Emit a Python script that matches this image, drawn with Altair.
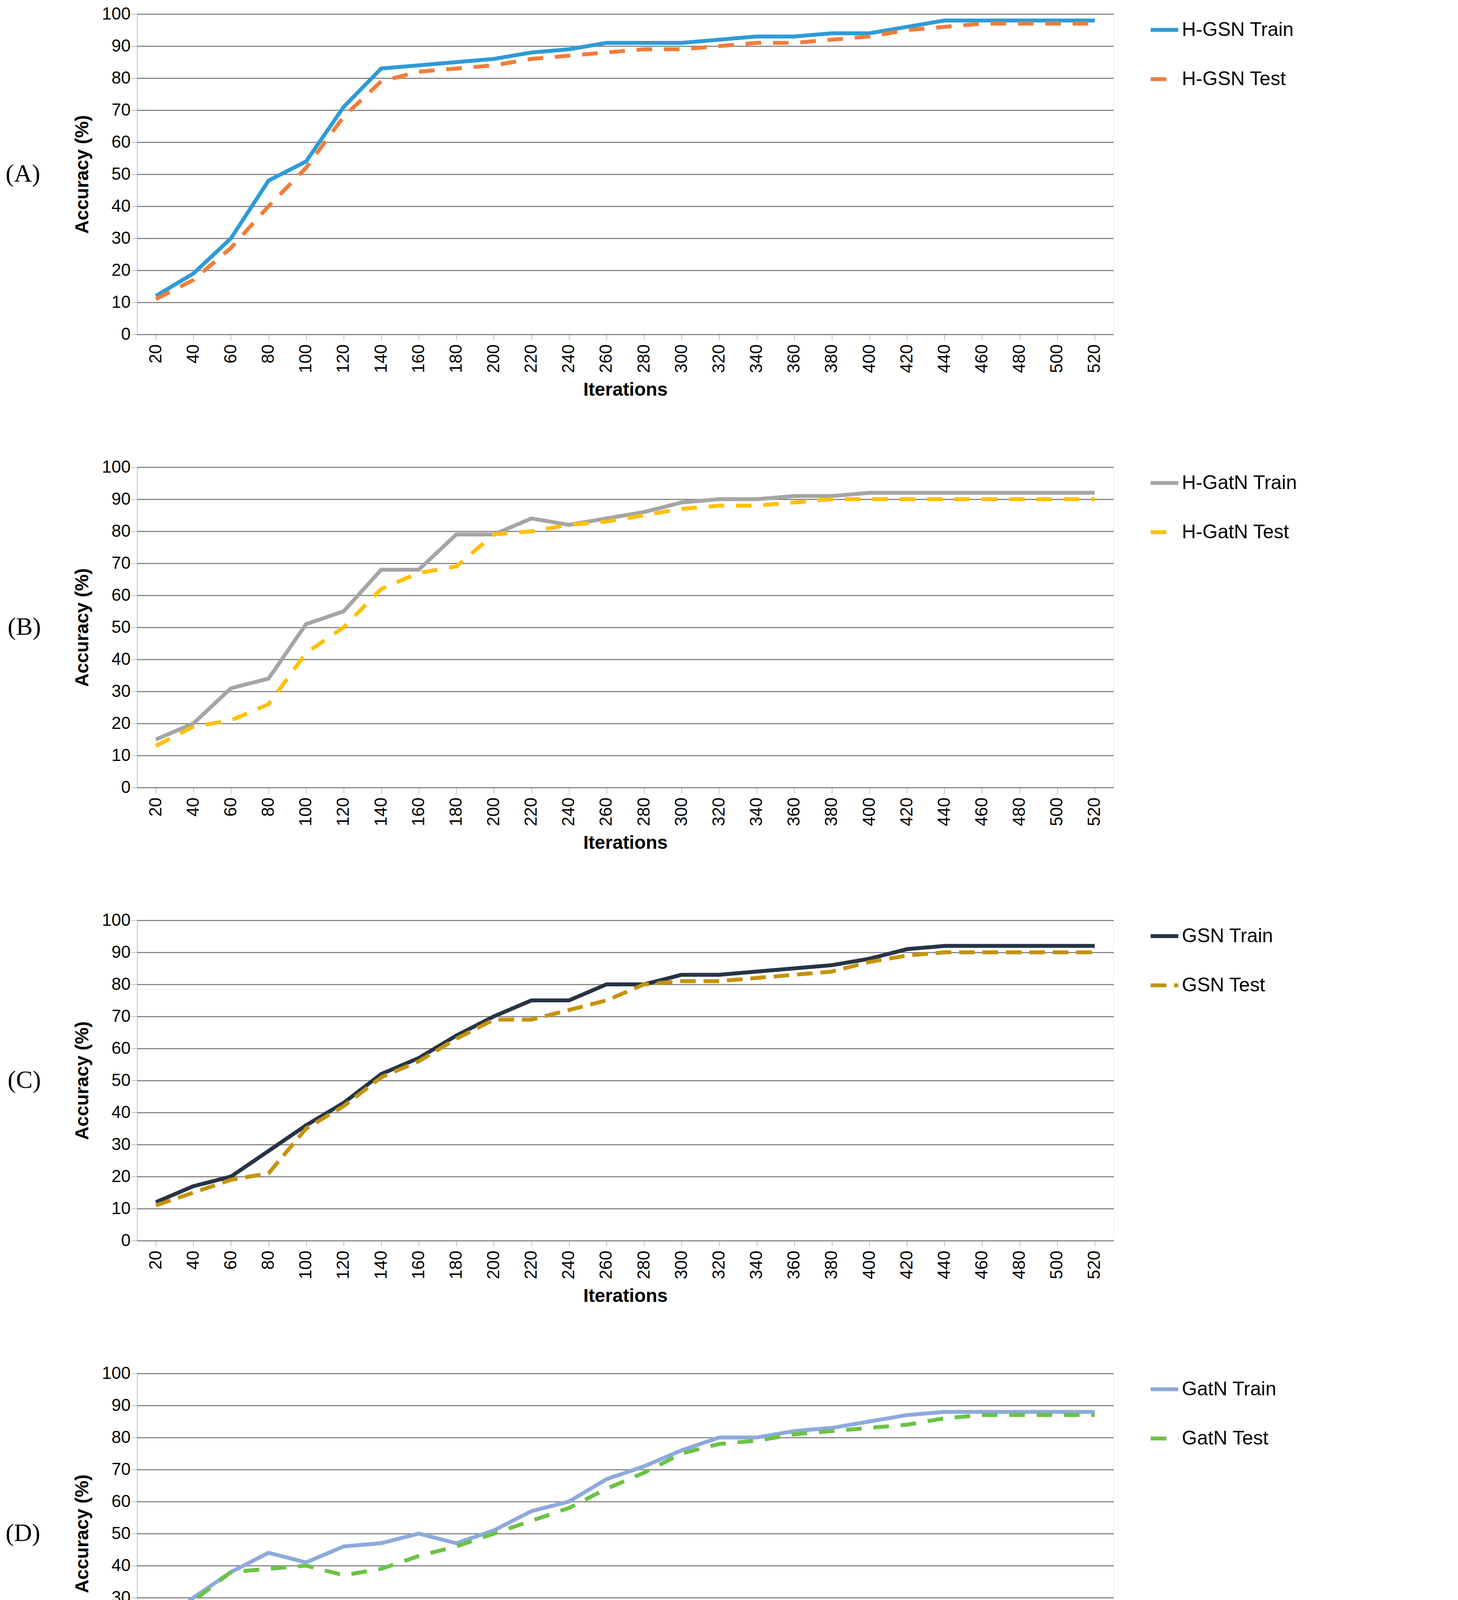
import altair as alt
import pandas as pd

iters = list(range(20, 521, 20))
a_train = [12,19,30,48,54,71,83,84,85,86,88,89,91,91,91,92,93,93,94,94,96,98,98,98,98,98]
a_test  = [11,17,27,40,52,68,79,82,83,84,86,87,88,89,89,90,91,91,92,93,95,96,97,97,97,97]
b_train = [15,20,31,34,51,55,68,68,79,79,84,82,84,86,89,90,90,91,91,92,92,92,92,92,92,92]
b_test  = [13,19,21,26,42,50,62,67,69,79,80,82,83,85,87,88,88,89,90,90,90,90,90,90,90,90]
c_train = [12,17,20,28,36,43,52,57,64,70,75,75,80,80,83,83,84,85,86,88,91,92,92,92,92,92]
c_test  = [11,15,19,21,35,42,51,56,63,69,69,72,75,80,81,81,82,83,84,87,89,90,90,90,90,90]
d_train = [21,30,38,44,41,46,47,50,47,51,57,60,67,71,76,80,80,82,83,85,87,88,88,88,88,88]
d_test  = [19,29,38,39,40,37,39,43,46,50,54,58,64,69,75,78,79,81,82,83,84,86,87,87,87,87]

panels = [
    ("(A)", "H-GSN", a_train, a_test, "#2E9BD6", "#F07D3A", [40, 30]),
    ("(B)", "H-GatN", b_train, b_test, "#A5A5A5", "#FFC000", [40, 30]),
    ("(C)", "GSN", c_train, c_test, "#263445", "#C4930E", [40, 20]),
    ("(D)", "GatN", d_train, d_test, "#8EAADB", "#6CC244", [40, 30]),
]

charts = []
for label, name, tr, te, c1, c2, dash in panels:
    n1, n2 = f"{name} Train", f"{name} Test"
    df = pd.DataFrame({
        "Iterations": iters * 2,
        "acc": tr + te,
        "series": [n1] * len(iters) + [n2] * len(iters),
    })
    ch = alt.Chart(df).mark_line(strokeWidth=10).encode(
        x=alt.X("Iterations:O", scale=alt.Scale(padding=0.5),
                axis=alt.Axis(title="Iterations", labelAngle=-90, grid=False,
                              labelFontSize=44, titleFontSize=48, titleFontWeight="bold",
                              labelFont="Liberation Sans", titleFont="Liberation Sans",
                              domainColor="#888", tickColor="#888", tickSize=15,
                              labelPadding=10, titlePadding=20, labelColor="#000")),
        y=alt.Y("acc:Q", scale=alt.Scale(domain=[0, 100]),
                axis=alt.Axis(title="Accuracy (%)", values=list(range(0, 101, 10)),
                              labelFontSize=44, titleFontSize=48, titleFontWeight="bold",
                              labelFont="Liberation Sans", titleFont="Liberation Sans",
                              gridColor="#888", gridWidth=3, domainColor="#888",
                              tickColor="#888", tickSize=15, labelColor="#000", titlePadding=25)),
        color=alt.Color("series:N", scale=alt.Scale(domain=[n1, n2], range=[c1, c2]),
                        legend=alt.Legend(title=None, orient="right", labelFontSize=50,
                                          labelFont="Liberation Sans", symbolType="stroke",
                                          symbolSize=5000, symbolStrokeWidth=10, labelLimit=0,
                                          rowPadding=60, offset=90, labelColor="#000")),
        strokeDash=alt.StrokeDash("series:N", scale=alt.Scale(domain=[n1, n2], range=[[1, 0], dash]),
                                  legend=alt.Legend(title=None)),
    ).properties(
        width=2500, height=820,
        title=alt.TitleParams(text=label, orient="left", angle=0, font="Liberation Serif",
                              fontSize=64, fontWeight="normal", baseline="middle", offset=40,
                              anchor="middle"),
    )
    charts.append(ch)

chart = (alt.vconcat(*charts, spacing=150)
         .resolve_scale(color="independent", strokeDash="independent", x="independent", y="independent")
         .resolve_legend(color="independent", strokeDash="independent")
         .configure_view(stroke=None).configure(background="white"))
chart.save("out.html", embed_options={"renderer": "svg", "actions": False})
